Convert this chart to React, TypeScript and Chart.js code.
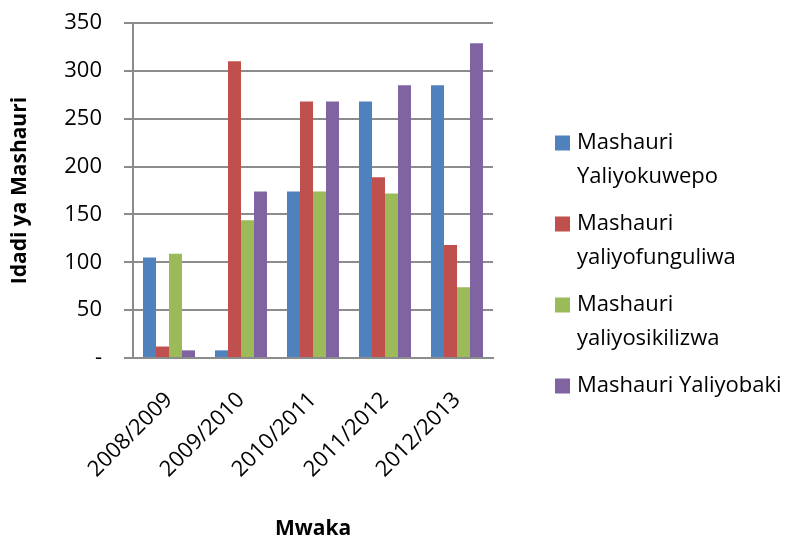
import React, { useEffect, useRef } from "react";
import { Chart, registerables } from "chart.js";

Chart.register(...registerables);

const categories = ["2008/2009", "2009/2010", "2010/2011", "2011/2012", "2012/2013"];
const yaliyokuwepo = [105, 8, 174, 268, 285];
const yaliyofunguliwa = [12, 310, 268, 189, 118];
const yaliyosikilizwa = [109, 144, 174, 172, 74];
const yaliyobaki = [8, 174, 268, 285, 329];
const seriesLabels = [
  ["Mashauri", "Yaliyokuwepo"],
  ["Mashauri", "yaliyofunguliwa"],
  ["Mashauri", "yaliyosikilizwa"],
  ["Mashauri Yaliyobaki"],
];
const colors = ["#4F81BD", "#C0504D", "#9BBB59", "#8064A2"];
const FONT = "'Open Sans', Lato, sans-serif";

const legendPlugin = {
  id: "customLegend",
  afterDraw(chart: any) {
    const ctx = chart.ctx;
    const x0 = 555;
    const lineGap = 34;
    const itemGap = 47;
    let y = 143;
    ctx.save();
    ctx.font = `22px ${FONT}`;
    ctx.textBaseline = "middle";
    ctx.textAlign = "left";
    chart.data.datasets.forEach((ds: any, i: number) => {
      const lines = seriesLabels[i];
      ctx.fillStyle = ds.backgroundColor;
      ctx.fillRect(x0, y - 7.5, 15, 15);
      ctx.fillStyle = "#000";
      lines.forEach((ln: string, j: number) => {
        ctx.fillText(ln, x0 + 22, y + j * lineGap);
      });
      y += (lines.length - 1) * lineGap + itemGap;
    });
    ctx.restore();
  },
};

export default function App() {
  const ref = useRef<HTMLCanvasElement | null>(null);
  useEffect(() => {
    document.body.style.margin = "0";
    const data = [yaliyokuwepo, yaliyofunguliwa, yaliyosikilizwa, yaliyobaki];
    const chart = new Chart(ref.current as HTMLCanvasElement, {
      type: "bar",
      data: {
        labels: categories,
        datasets: data.map((d, i) => ({
          label: seriesLabels[i].join(" "),
          data: d,
          backgroundColor: colors[i],
          borderWidth: 0,
          categoryPercentage: 0.722,
          barPercentage: 1,
        })),
      },
      options: {
        animation: false,
        responsive: false,
        maintainAspectRatio: false,
        layout: { autoPadding: false, padding: { left: 7, top: 22, right: 304, bottom: 0 } },
        plugins: {
          legend: { display: false },
          tooltip: { enabled: false },
          title: { display: false },
        },
        scales: {
          x: {
            grid: { display: false, drawTicks: false },
            border: { display: true, color: "#8c8c8c", width: 2 },
            ticks: {
              minRotation: 45,
              maxRotation: 45,
              padding: 29,
              color: "#000",
              font: { family: FONT, size: 22 },
            },
            title: {
              display: true,
              text: "Mwaka",
              color: "#000",
              font: { family: FONT, size: 21, weight: "bold", lineHeight: 0.8 },
              padding: { top: 0, bottom: 0 },
            },
            afterFit: (s: any) => {
              s.height = 537 - 358;
            },
          },
          y: {
            min: 0,
            max: 350,
            ticks: {
              stepSize: 50,
              padding: 22,
              color: "#000",
              font: { family: FONT, size: 22, lineHeight: 0.1 },
              callback: (v: any) => (v === 0 ? "-" : String(v)),
            },
            grid: { color: "#8c8c8c", lineWidth: 2, tickLength: 9, drawTicks: true },
            border: { display: true, color: "#8c8c8c", width: 2 },
            title: {
              display: true,
              text: "Idadi ya Mashauri",
              color: "#000",
              font: { family: FONT, size: 21, weight: "bold" },
              padding: { top: 0, bottom: 0 },
            },
            afterFit: (s: any) => {
              s.width = 133 - 7;
            },
          },
        },
      },
      plugins: [legendPlugin],
    });
    return () => chart.destroy();
  }, []);
  return (
    <div style={{ width: 797, height: 537 }}>
      <canvas ref={ref} width={797} height={537} style={{ display: "block" }} />
    </div>
  );
}
